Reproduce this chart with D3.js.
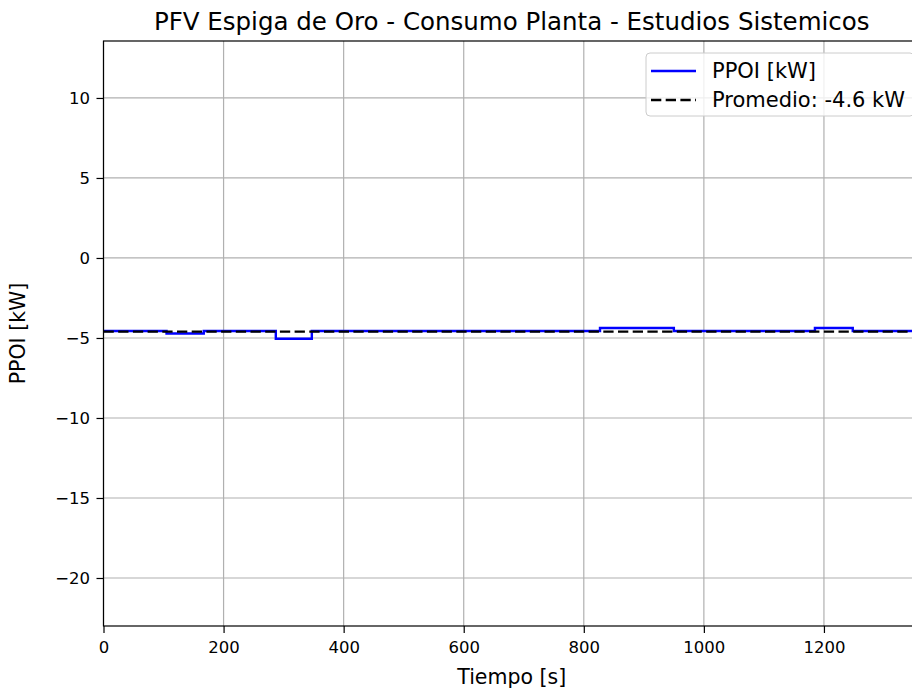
<!DOCTYPE html>
<html>
<head>
<meta charset="utf-8">
<script src="https://cdn.jsdelivr.net/npm/d3@7"></script>
<style>
  body { margin: 0; background: #fff; }
  svg { display: block; font-family: "DejaVu Sans", sans-serif; }
</style>
</head>
<body>
<div id="chart"></div>
<script>
// step changes of the measured power (start time of each level, s)
const tiempo = [0, 105, 167, 287, 347, 827, 950, 1185, 1248, 1360];
const ppoi = [-4.56, -4.72, -4.56, -5.05, -4.56, -4.38, -4.56, -4.38, -4.56, -4.56];
const promedio = -4.6;
const xTicks = [0, 200, 400, 600, 800, 1000, 1200];
const yTicks = [-20, -15, -10, -5, 0, 5, 10];

const width = 912, height = 690;
const margin = { top: 41, left: 103.5, bottom: 64, right: -8 };
const innerW = width - margin.left - margin.right;
const innerH = height - margin.top - margin.bottom;

const svg = d3.select("#chart").append("svg")
    .attr("width", width)
    .attr("height", height);

const x = d3.scaleLinear().domain([0, 1360]).range([0, innerW]);
const y = d3.scaleLinear().domain([-23.0, 13.56]).range([innerH, 0]);

const g = svg.append("g").attr("transform", `translate(${margin.left},${margin.top})`);

// grid
g.append("g").selectAll("line").data(xTicks).enter().append("line")
    .attr("x1", d => x(d)).attr("x2", d => x(d))
    .attr("y1", 0).attr("y2", innerH)
    .attr("stroke", "#b0b0b0").attr("stroke-width", 1.2);
g.append("g").selectAll("line").data(yTicks).enter().append("line")
    .attr("x1", 0).attr("x2", innerW)
    .attr("y1", d => y(d)).attr("y2", d => y(d))
    .attr("stroke", "#b0b0b0").attr("stroke-width", 1.2);

// data
const pts = tiempo.map((t, i) => [t, ppoi[i]]);
const line = d3.line().x(d => x(d[0])).y(d => y(d[1])).curve(d3.curveStepAfter);
g.append("path").datum(pts)
    .attr("d", line)
    .attr("fill", "none")
    .attr("stroke", "#0000ff")
    .attr("stroke-width", 2.4);

g.append("line")
    .attr("x1", x(0)).attr("x2", x(1360))
    .attr("y1", y(promedio)).attr("y2", y(promedio))
    .attr("stroke", "#000").attr("stroke-width", 2.4)
    .attr("stroke-dasharray", "10.3,4.4");

// axes
const xAxis = d3.axisBottom(x).tickValues(xTicks).tickSize(7).tickPadding(8).tickFormat(d3.format("d"));
const yAxis = d3.axisLeft(y).tickValues(yTicks).tickSize(7).tickPadding(6.5).tickFormat(d3.format("d"));
const xg = g.append("g").attr("transform", `translate(0,${innerH})`).call(xAxis);
const yg = g.append("g").call(yAxis);
[xg, yg].forEach(a => {
    a.select(".domain").remove();
    a.selectAll("line").attr("stroke", "#000").attr("stroke-width", 1.2);
    a.selectAll("text").attr("font-size", 16.5).attr("fill", "#000")
        .attr("font-family", "DejaVu Sans");
});

// frame
g.append("rect").attr("width", innerW).attr("height", innerH)
    .attr("fill", "none").attr("stroke", "#000").attr("stroke-width", 1.2);

// labels
svg.append("text")
    .attr("x", margin.left + innerW / 2).attr("y", 30)
    .attr("text-anchor", "middle").attr("font-size", 24.5)
    .text("PFV Espiga de Oro - Consumo Planta - Estudios Sistemicos");
svg.append("text")
    .attr("x", margin.left + innerW / 2).attr("y", 684)
    .attr("text-anchor", "middle").attr("font-size", 20.5)
    .text("Tiempo [s]");
svg.append("text")
    .attr("transform", `translate(25,${margin.top + innerH / 2}) rotate(-90)`)
    .attr("text-anchor", "middle").attr("font-size", 20.5)
    .text("PPOI [kW]");

// legend
const leg = svg.append("g").attr("transform", "translate(646,53)");
leg.append("rect").attr("width", 268).attr("height", 63).attr("rx", 4)
    .attr("fill", "#fff").attr("fill-opacity", 0.8)
    .attr("stroke", "#cccccc");
leg.append("line").attr("x1", 5).attr("x2", 50).attr("y1", 18).attr("y2", 18)
    .attr("stroke", "#0000ff").attr("stroke-width", 2.4);
leg.append("line").attr("x1", 5).attr("x2", 50).attr("y1", 47).attr("y2", 47)
    .attr("stroke", "#000").attr("stroke-width", 2.4).attr("stroke-dasharray", "10.3,4.4");
leg.append("text").attr("x", 66).attr("y", 25).attr("font-size", 21).text("PPOI [kW]");
leg.append("text").attr("x", 66).attr("y", 54).attr("font-size", 21)
    .text("Promedio: " + d3.format(".1f")(promedio).replace("−", "-") + " kW");
</script>
</body>
</html>
